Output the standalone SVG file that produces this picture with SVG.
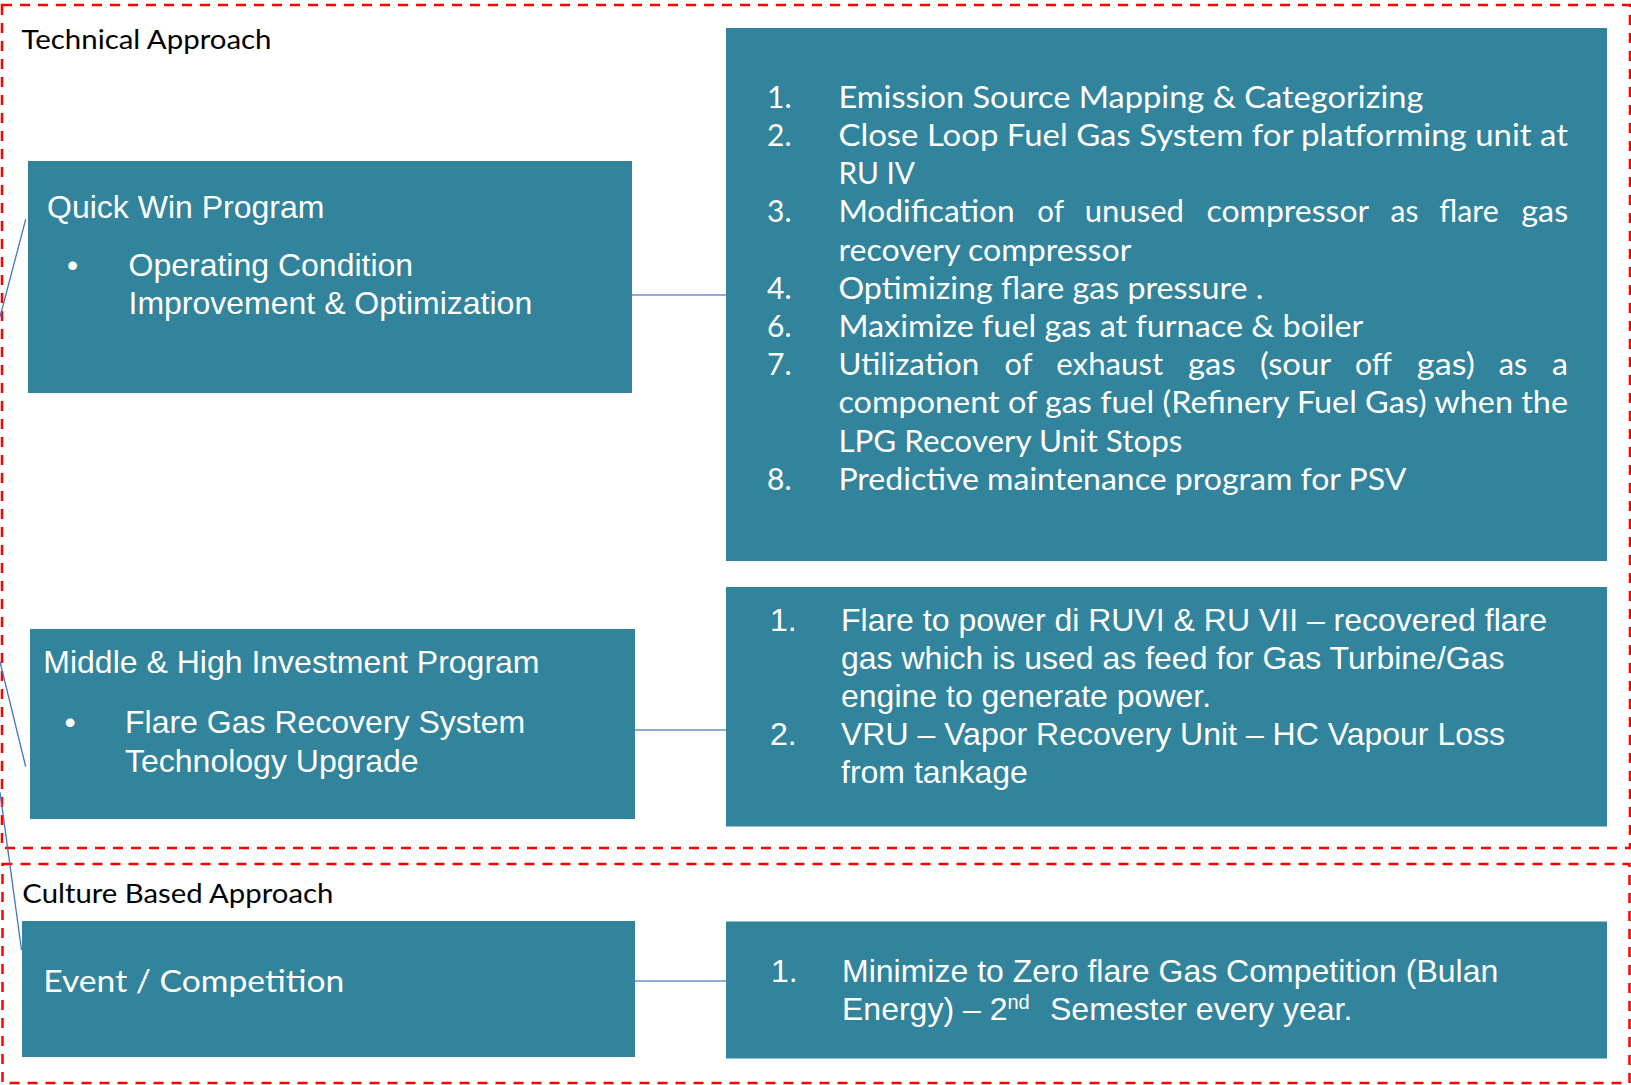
<svg xmlns="http://www.w3.org/2000/svg" width="1631" height="1085" viewBox="0 0 1631 1085">
<style>
.frame{fill:none;stroke:#FF0000;stroke-width:2.5;stroke-dasharray:10 8}
.box{fill:#31849B}
.a{font-family:"Liberation Sans",Arial,sans-serif;font-size:32px;fill:#FFFFFF}
.c{font-family:Lato,"Open Sans",sans-serif;font-size:30px;fill:#FFFFFF}
.h{font-family:Lato,"Open Sans",sans-serif;font-size:27.5px;fill:#000000}
.hc{fill:none;stroke:#8FAADC;stroke-width:2}
.dc{fill:none;stroke:#4472C4;stroke-width:1.3}
</style>
<rect width="1631" height="1085" fill="#FFFFFF"/>
<g id="technical-approach">
  <rect class="frame" x="2" y="5" width="1628" height="843"/>
  <text class="h" x="21.5" y="49.3" textLength="250" lengthAdjust="spacingAndGlyphs">Technical Approach</text>
</g>
<g id="culture-approach">
  <rect class="frame" x="2.5" y="864" width="1627" height="219"/>
  <text class="h" x="22.3" y="902.7" textLength="311" lengthAdjust="spacingAndGlyphs">Culture Based Approach</text>
</g>
<g id="connectors">
  <line class="hc" x1="632" y1="295" x2="726" y2="295"/>
  <line class="hc" x1="635" y1="730" x2="726" y2="730"/>
  <line class="hc" x1="635" y1="981" x2="726" y2="981"/>
  <line class="dc" x1="25.7" y1="219.3" x2="0" y2="317"/>
  <line class="dc" x1="0" y1="661.7" x2="25.7" y2="766.7"/>
  <line class="dc" x1="0" y1="792" x2="21.5" y2="950"/>
</g>
<g id="quick-win">
  <rect class="box" x="28" y="161" width="604" height="232"/>
  <text class="a" x="47" y="218.3">Quick Win Program</text>
  <text class="a" x="67" y="276">•</text>
  <text class="a" x="128.5" y="276">Operating Condition</text>
  <text class="a" x="128.5" y="314.3">Improvement &amp; Optimization</text>
</g>
<g id="quick-win-actions">
  <rect class="box" x="726" y="28" width="881" height="533"/>
  <text class="c" x="767" y="107.7">1.</text>
  <text class="c" x="838.4" y="107.7" textLength="585" lengthAdjust="spacingAndGlyphs">Emission Source Mapping &amp; Categorizing</text>
  <text class="c" x="767" y="145.9">2.</text>
  <text class="c" x="838.4" y="145.9" textLength="729.6" lengthAdjust="spacingAndGlyphs">Close Loop Fuel Gas System for platforming unit at</text>
  <text class="c" x="838.4" y="184.1" textLength="76.6" lengthAdjust="spacingAndGlyphs">RU IV</text>
  <text class="c" x="767" y="222.3">3.</text>
  <text class="c" x="838.4" y="222.3" textLength="176.3" lengthAdjust="spacingAndGlyphs">Modification</text>
  <text class="c" x="1037.3" y="222.3" textLength="26.7" lengthAdjust="spacingAndGlyphs">of</text>
  <text class="c" x="1084.8" y="222.3" textLength="99.2" lengthAdjust="spacingAndGlyphs">unused</text>
  <text class="c" x="1206.5" y="222.3" textLength="162.7" lengthAdjust="spacingAndGlyphs">compressor</text>
  <text class="c" x="1390.6" y="222.3" textLength="27.9" lengthAdjust="spacingAndGlyphs">as</text>
  <text class="c" x="1439.3" y="222.3" textLength="59.4" lengthAdjust="spacingAndGlyphs">flare</text>
  <text class="c" x="1521.3" y="222.3" textLength="46.9" lengthAdjust="spacingAndGlyphs">gas</text>
  <text class="c" x="838.4" y="260.5" textLength="293" lengthAdjust="spacingAndGlyphs">recovery compressor</text>
  <text class="c" x="767" y="298.7">4.</text>
  <text class="c" x="838.4" y="298.7" textLength="425" lengthAdjust="spacingAndGlyphs">Optimizing flare gas pressure .</text>
  <text class="c" x="767" y="336.9">6.</text>
  <text class="c" x="838.4" y="336.9" textLength="525" lengthAdjust="spacingAndGlyphs">Maximize fuel gas at furnace &amp; boiler</text>
  <text class="c" x="767" y="375.1">7.</text>
  <text class="c" x="838.4" y="375.1" textLength="140.7" lengthAdjust="spacingAndGlyphs">Utilization</text>
  <text class="c" x="1004.6" y="375.1" textLength="27.9" lengthAdjust="spacingAndGlyphs">of</text>
  <text class="c" x="1056.3" y="375.1" textLength="106.9" lengthAdjust="spacingAndGlyphs">exhaust</text>
  <text class="c" x="1188.1" y="375.1" textLength="47.5" lengthAdjust="spacingAndGlyphs">gas</text>
  <text class="c" x="1260" y="375.1" textLength="71.2" lengthAdjust="spacingAndGlyphs">(sour</text>
  <text class="c" x="1355" y="375.1" textLength="36.8" lengthAdjust="spacingAndGlyphs">off</text>
  <text class="c" x="1416.8" y="375.1" textLength="58.2" lengthAdjust="spacingAndGlyphs">gas)</text>
  <text class="c" x="1498.7" y="375.1" textLength="28.5" lengthAdjust="spacingAndGlyphs">as</text>
  <text class="c" x="1552" y="375.1" textLength="16" lengthAdjust="spacingAndGlyphs">a</text>
  <text class="c" x="838.4" y="413.3" textLength="729.6" lengthAdjust="spacingAndGlyphs">component of gas fuel (Refinery Fuel Gas) when the</text>
  <text class="c" x="838.4" y="451.5" textLength="344" lengthAdjust="spacingAndGlyphs">LPG Recovery Unit Stops</text>
  <text class="c" x="767" y="489.7">8.</text>
  <text class="c" x="838.4" y="489.7" textLength="568" lengthAdjust="spacingAndGlyphs">Predictive maintenance program for PSV</text>
</g>
<g id="middle-high">
  <rect class="box" x="30" y="629" width="605" height="190"/>
  <text class="a" x="43.3" y="673.3">Middle &amp; High Investment Program</text>
  <text class="a" x="64.5" y="733.3">•</text>
  <text class="a" x="125" y="733.3">Flare Gas Recovery System</text>
  <text class="a" x="125" y="771.7">Technology Upgrade</text>
</g>
<g id="middle-high-actions">
  <rect class="box" x="726" y="587" width="881" height="239.5"/>
  <text class="a" x="770" y="630.7">1.</text>
  <text class="a" x="841" y="630.7">Flare to power di RUVI &amp; RU VII – recovered flare</text>
  <text class="a" x="841" y="669">gas which is used as feed for Gas Turbine/Gas</text>
  <text class="a" x="841" y="707">engine to generate power.</text>
  <text class="a" x="770" y="745">2.</text>
  <text class="a" x="841" y="745">VRU – Vapor Recovery Unit – HC Vapour Loss</text>
  <text class="a" x="841" y="783.3">from tankage</text>
</g>
<g id="event-competition">
  <rect class="box" x="22" y="921" width="613" height="136"/>
  <text class="c" x="43.3" y="991.7" textLength="301" lengthAdjust="spacingAndGlyphs">Event / Competition</text>
</g>
<g id="event-actions">
  <rect class="box" x="726" y="921.5" width="881" height="137"/>
  <text class="a" x="771" y="981.7">1.</text>
  <text class="a" x="842" y="981.7">Minimize to Zero flare Gas Competition (Bulan</text>
  <text class="a" x="842" y="1020">Energy) – 2<tspan font-size="20" dy="-11">nd</tspan><tspan x="1050" dy="11">Semester every year.</tspan></text>
</g>
</svg>
